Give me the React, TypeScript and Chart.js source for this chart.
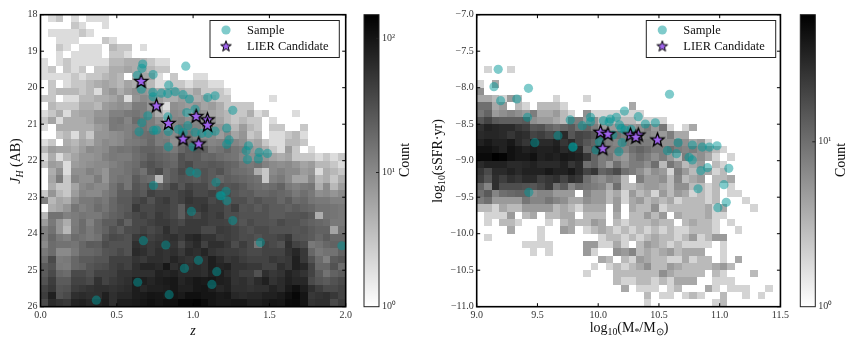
import React, { useEffect, useRef } from "react";
import { Chart, registerables } from "chart.js";

Chart.register(...registerables);

const SERIF = '"Liberation Serif", serif';

// Counts per cell, row 0 is the top row of the panel.
const leftCounts: number[][] = [
  [0,2,3,0,2,1,2,2,2],
  [0,0,0,0,3,2,0,0,2],
  [0,2,2,2,2,3,2],
  [0,1,2,2,2,0,0,0,3,2],
  [0,1,3,2,1,2,2,2,1,4,3,3,1,2],
  [0,1,2,1,2,2,2,2,1,3,3,2,1],
  [2,1,2,3,2,2,2,2,2,4,4,5,5,4,3,2,2],
  [2,3,1,3,2,3,1,3,3,5,5,6,5,5,4,3,3],
  [2,2,2,2,3,2,3,3,4,5,4,1,5,6,6,2,1,3,0,0,2,2],
  [1,3,1,2,3,3,4,5,6,5,4,6,5,7,4,2,2,3,3,2,3,3,2,2],
  [0,3,4,4,4,3,4,2,6,8,5,7,9,8,7,5,5,6,5,4,6,3,3,3,2],
  [3,3,1,2,2,4,4,5,5,6,8,2,8,10,9,7,5,5,7,6,5,6,4,3,3,0,0,0,0,0,2],
  [1,4,3,3,3,5,5,4,7,8,9,8,13,13,8,4,2,9,8,7,8,6,7,5,3,3,3,3],
  [2,3,5,2,5,6,6,8,8,12,12,14,15,13,10,5,3,10,9,5,10,8,6,5,4,3,3,5,2,3,0,0,0,2],
  [3,6,2,5,5,5,6,9,9,14,15,11,18,15,13,9,4,11,12,9,11,9,9,6,4,3,4,3,3,0,2],
  [2,1,5,5,5,5,5,7,8,14,13,12,14,16,13,11,7,11,15,13,12,9,8,8,6,4,7,4,3,0,3,3,0,0,3],
  [1,1,3,4,2,5,3,8,8,9,10,12,15,17,18,13,12,10,16,15,12,10,10,7,10,6,8,3,4,0,2,2,3,4,2],
  [2,3,1,5,4,6,5,8,10,9,10,13,14,15,19,13,14,9,16,19,15,13,11,12,14,11,9,5,6,3,2,2,4,4,3],
  [4,7,6,6,5,7,10,9,10,14,16,15,18,22,22,19,16,14,20,25,27,23,14,16,20,15,13,8,7,5,3,2,7,3,0,2],
  [2,5,2,4,6,8,8,9,12,14,13,13,17,20,25,22,20,18,30,24,25,20,21,18,16,15,11,9,10,8,6,5,6,3,3,3,2,3,2,3],
  [3,7,6,2,7,8,9,10,10,12,14,16,18,25,30,25,22,20,30,35,25,25,27,25,22,20,15,14,16,12,10,9,10,8,6,7,4,4,3,2],
  [0,5,9,2,9,9,12,10,8,14,14,16,20,16,28,35,20,25,35,30,27,30,25,30,22,18,17,15,5,3,10,12,10,10,7,8,2,5,4,3],
  [0,6,13,3,11,9,9,13,8,14,16,15,25,20,18,4,20,25,30,28,25,30,25,20,24,22,20,18,16,3,12,14,10,6,6,10,4,5,3,5],
  [0,5,3,3,6,10,12,10,10,16,22,15,28,24,32,22,28,40,28,40,35,35,25,32,28,30,25,20,18,16,18,22,14,12,14,15,5,10,4,7],
  [3,8,4,3,7,11,10,10,13,16,24,24,30,26,42,36,36,36,42,48,36,36,42,36,34,28,24,25,20,20,22,20,18,14,17,14,9,10,8,10],
  [12,4,6,5,10,14,14,16,14,20,26,26,36,42,30,42,48,36,42,54,48,48,36,42,28,32,32,25,30,25,25,20,25,18,20,15,14,14,12,12],
  [0,5,6,8,15,12,14,18,15,20,24,26,48,36,36,42,42,36,24,48,48,54,42,42,34,44,28,30,25,30,25,25,22,25,22,20,16,16,15,14],
  [4,16,16,12,13,15,14,14,18,22,24,30,36,42,36,48,42,36,24,42,36,48,42,48,34,34,30,30,30,30,25,25,28,28,30,25,5,16,15,14],
  [7,14,8,5,13,18,12,18,24,24,34,22,36,36,42,48,48,42,36,48,48,48,42,42,40,34,28,35,30,30,28,35,30,30,25,22,20,18,14,14],
  [12,16,8,4,14,18,14,18,22,30,24,34,36,42,36,42,60,42,48,48,48,36,36,48,45,40,34,30,35,35,30,30,30,28,30,25,22,22,6,16],
  [12,20,14,12,18,16,14,16,28,36,34,30,48,54,42,48,54,60,48,66,72,54,54,42,45,40,34,35,30,35,35,40,50,30,28,25,20,25,20,20],
  [10,18,16,16,15,20,25,24,34,30,30,30,60,54,48,54,60,54,36,54,66,42,60,60,50,34,45,35,15,40,35,30,60,40,35,14,16,20,22,22],
  [14,18,10,10,14,20,20,22,28,30,36,30,66,60,48,60,54,60,48,66,60,72,54,48,45,45,40,35,35,40,40,40,55,70,50,20,14,16,16,22],
  [18,35,13,14,20,25,25,28,28,42,42,42,54,48,60,60,54,72,60,54,60,60,84,66,50,55,45,40,40,40,50,45,50,80,50,30,18,12,25,28],
  [25,30,14,13,20,22,28,32,34,42,48,42,60,72,72,66,96,60,72,60,66,60,84,72,78,55,55,50,50,40,40,60,50,80,70,40,20,20,30,18],
  [25,35,20,18,35,35,30,40,40,42,54,54,60,60,60,78,72,78,66,66,66,60,78,84,66,55,45,45,30,60,50,55,75,65,55,40,25,16,22,25],
  [30,45,25,25,40,40,35,56,40,48,54,60,84,84,72,84,90,96,72,84,96,90,96,84,78,55,60,50,65,80,55,65,80,70,70,35,28,25,30,35],
  [40,50,28,30,45,50,55,60,60,55,60,65,85,70,80,80,85,95,80,80,95,100,85,70,80,60,60,55,60,60,75,65,90,110,85,60,45,35,35,40],
  [45,80,30,35,60,65,60,60,80,60,70,70,85,90,100,95,90,100,90,110,110,100,100,90,95,70,65,70,70,80,80,90,110,130,100,50,55,60,50,40],
  [35,65,55,50,75,80,70,75,85,60,85,85,90,100,110,100,110,110,130,130,140,120,100,90,90,95,95,80,80,90,100,95,120,125,100,55,60,60,35,45],
];

const rightCounts: number[][] = [
  [],[],[],[],[],[],[],
  [0,2,0,0,2],
  [],
  [2,0,4],
  [6],
  [4,4,3,2,5,3,0,0,0,0,2,0,0,0,2],
  [10,10,4,5,1,3,2,0,3,3,3,2,0,0,0,0,0,0,0,0,4],
  [9,12,5,6,7,6,5,8,4,4,5,3,2,0,6,2,2,2,2,2,2,2],
  [15,20,14,13,13,13,14,6,5,5,4,3,8,8,5,6,3,3,3,3,3,2,2,2,2],
  [28,35,32,30,30,25,22,15,16,12,10,12,14,10,12,8,5,5,5,6,5,6,8,5,9,2,0,2,4],
  [30,32,32,30,25,30,28,20,22,18,20,30,15,20,18,15,14,12,10,8,8,6,7,6,5,8,4,4],
  [35,40,35,35,40,30,25,35,30,30,35,25,30,20,15,12,10,8,7,9,8,8,8,7,6,6,8,6,4,5,2],
  [45,45,40,35,45,40,35,38,35,35,38,30,35,30,12,15,12,8,8,7,10,12,10,8,8,10,8,7,8,6,5,3,2],
  [50,50,59,55,45,40,40,45,35,38,35,40,38,35,25,12,8,9,6,5,8,10,8,6,8,5,3,8,5,6,4,2,0,2],
  [30,35,35,35,30,30,32,35,30,30,30,35,25,30,10,12,8,5,10,6,8,8,6,10,3,9,6,3,4,5,1,3,2],
  [25,18,30,30,35,30,35,35,35,40,35,35,40,30,20,25,12,14,18,10,8,6,4,6,5,2,8,5,3,4,4,2,3],
  [22,15,28,22,28,25,30,30,22,25,28,20,28,24,10,7,6,8,7,3,1,8,5,5,6,3,7,3,4,5,0,3,3,4],
  [12,7,28,17,17,17,16,15,18,24,10,14,7,10,9,8,7,4,10,3,3,4,5,5,4,3,6,6,3,3,2,3,0,2],
  [10,14,7,10,11,12,12,6,7,7,5,5,5,1,7,5,5,3,4,2,5,3,4,2,5,3,5,4,2,3,2,3,0,2,2],
  [8,10,5,5,5,5,9,7,7,9,7,6,4,4,6,5,5,3,5,2,4,5,3,4,3,4,2,3,3,3,2,3,0,0,0,2],
  [3,3,2,4,3,3,5,5,5,5,3,4,3,2,4,4,4,1,5,1,4,3,3,6,2,3,3,3,3,3,4,2,4,0,0,0,2],
  [0,2,2,2,5,0,3,4,1,3,3,4,4,0,3,3,3,1,4,0,3,3,5,3,5,1,4,3,3,3,4,2,2],
  [0,2,0,3,3,2,0,0,0,2,0,3,4,3,3,5,4,1,3,2,3,3,3,4,3,3,0,3,4,3,3,2,0,2],
  [0,0,0,0,4,0,0,0,2,0,0,5,4,0,2,3,4,3,2,3,2,3,2,3,2,3,2,2,3,3,3,2,0,0,2],
  [0,2,0,0,0,0,0,0,2,0,0,0,0,0,0,0,2,3,3,2,3,2,3,4,3,3,2,3,5,2,3,5,5],
  [0,0,0,0,0,0,2,2,2,2,0,0,0,0,5,5,2,2,4,2,1,3,5,4,3,2,3,2,2,2,2,0,2],
  [0,0,0,0,0,0,0,2,0,2,0,0,0,0,5,2,0,0,6,5,7,3,4,3,4,5,3,4,4,4,0,0,2],
  [0,0,0,0,0,0,0,0,0,0,0,0,0,0,0,0,4,3,1,3,2,5,4,3,3,2,2,4,2,3,3,0,2,0,4],
  [0,0,0,0,0,0,0,0,0,0,0,0,0,0,0,2,0,2,3,2,3,4,6,3,3,5,4,3,3,3,3,4,5,3],
  [0,0,0,0,0,0,0,0,0,0,0,0,0,0,2,0,0,0,3,3,3,3,3,3,6,4,3,3,3,3,0,3,2,0,0,0,3],
  [0,0,0,0,0,0,0,0,0,0,0,0,0,0,0,0,0,0,3,2,2,3,3,2,3,2,4,4,4,0,0,2,2,2],
  [0,0,0,0,0,0,0,0,0,0,0,0,0,0,0,0,0,0,0,4,0,2,2,2,0,2,3,0,0,0,4,2,0,2,2,2,0,0,2],
  [0,0,0,0,0,0,0,0,0,0,0,0,0,0,0,0,0,0,0,0,0,0,3,0,2,2,0,2,3,2,0,0,3,0,0,2,0,2],
  [0,0,0,0,0,0,0,0,0,0,0,0,0,0,0,0,0,0,0,0,0,0,2,0,0,0,0,0,0,0,0,2,3],
];

const leftSampleZ = [0.67,0.664,0.635,0.738,0.661,0.84,0.952,0.736,0.738,0.792,0.834,0.882,0.934,0.976,0.703,0.664,0.646,0.74,0.76,0.838,0.834,0.838,0.958,1.013,0.904,0.935,0.965,1.013,1.057,1.144,1.1,1.0,0.98,1.024,1.096,1.144,1.26,1.22,1.236,1.22,1.363,1.348,1.433,1.487,1.356,1.428,0.74,1.15,1.177,0.989,0.674,0.821,1.035,0.943,1.155,0.637,1.123,0.843,0.366,1.216,1.184,1.221,1.26,1.441,1.975];
const leftSampleJ = [19.35,19.47,19.66,19.64,20.04,19.93,19.41,20.13,20.25,20.15,20.16,20.11,20.19,20.31,20.77,20.96,21.21,21.17,21.16,21.2,20.8,21.62,20.68,20.59,21.14,21.23,21.04,21.22,21.25,21.19,21.25,21.62,22.3,22.34,20.27,20.22,20.62,21.11,21.43,21.55,21.59,21.73,21.77,21.8,21.97,21.95,22.68,22.59,22.96,23.39,24.19,24.31,24.73,24.95,25.04,25.33,25.39,25.67,25.82,22.84,22.96,23.1,23.64,24.24,24.33];
const leftStarZ = [0.659,0.76,0.838,0.934,1.037,1.02,1.094,1.094];
const leftStarJ = [19.83,20.5,20.98,21.41,21.54,20.79,20.88,21.03];

const rightSampleM = [9.177,9.142,9.197,9.33,9.426,9.418,9.478,9.669,9.77,9.792,9.792,9.869,9.937,9.937,10.043,10.09,10.1,10.15,10.175,10.19,10.216,10.33,10.388,10.47,10.27,10.22,10.01,9.983,10.17,10.197,10.12,10.587,10.658,10.775,10.857,10.915,10.978,10.57,10.644,10.748,10.775,10.9,10.844,11.075,10.822,11.035,11.054,10.985,9.429];
const rightSampleS = [-7.748,-7.986,-8.178,-8.155,-8.008,-8.406,-8.753,-8.657,-8.442,-8.816,-8.81,-8.52,-8.406,-8.466,-8.452,-8.47,-8.43,-8.406,-8.51,-8.556,-8.32,-8.397,-8.497,-8.48,-8.57,-8.58,-8.74,-8.853,-8.877,-8.753,-8.648,-8.09,-8.753,-8.785,-8.813,-8.813,-8.795,-8.863,-8.904,-8.953,-8.99,-9.096,-9.137,-9.104,-9.384,-9.329,-9.57,-9.644,-9.433];
const rightStarM = [10.019,10.08,10.038,10.265,10.33,10.31,10.488];
const rightStarS = [-8.611,-8.638,-8.836,-8.648,-8.648,-8.68,-8.717];

const TOP = 14.7;
const BOTTOM = 306.7;
const H = 347;

type Seg = { t: string; italic?: boolean; sub?: boolean };

function richWidth(ctx: CanvasRenderingContext2D, segs: Seg[], size: number) {
  let w = 0;
  for (const s of segs) {
    ctx.font = `${s.italic ? "italic " : ""}${s.sub ? size * 0.7 : size}px ${SERIF}`;
    w += ctx.measureText(s.t).width;
  }
  return w;
}

function drawRich(ctx: CanvasRenderingContext2D, segs: Seg[], cx: number, cy: number, rot: number, size: number) {
  ctx.save();
  ctx.translate(cx, cy);
  ctx.rotate(rot);
  ctx.fillStyle = "#111";
  ctx.textBaseline = "alphabetic";
  ctx.textAlign = "left";
  let x = -richWidth(ctx, segs, size) / 2;
  for (const s of segs) {
    ctx.font = `${s.italic ? "italic " : ""}${s.sub ? size * 0.7 : size}px ${SERIF}`;
    ctx.fillText(s.t, x, size * 0.33 + (s.sub ? size * 0.22 : 0));
    x += ctx.measureText(s.t).width;
  }
  ctx.restore();
}

function makeStar(outer: number, line: number) {
  const pad = line + 3;
  const size = Math.ceil((outer + pad) * 2);
  const c = document.createElement("canvas");
  c.width = size;
  c.height = size;
  const g = c.getContext("2d")!;
  g.beginPath();
  for (let i = 0; i < 10; i++) {
    const r = i % 2 === 0 ? outer : outer * 0.42;
    const a = -Math.PI / 2 + (i * Math.PI) / 5;
    const px = size / 2 + r * Math.cos(a);
    const py = size / 2 + r * Math.sin(a);
    if (i === 0) g.moveTo(px, py);
    else g.lineTo(px, py);
  }
  g.closePath();
  g.fillStyle = "#a064ee";
  g.fill();
  g.lineWidth = line;
  g.strokeStyle = "#000";
  g.lineJoin = "miter";
  g.stroke();
  return c;
}

type Panel = {
  counts: number[][];
  vmax: number;
  xMin: number;
  xStep: number;
  yStart: number;
  yStep: number;
  legendLeft: number;
  legendRight: number;
  canvasLeft: number;
  yLabel: Seg[];
  xLabel: Seg[];
  yLabelX: number;
  xLabelX: number;
  xLabelY: number;
};

function panelPlugin(p: Panel, legendStar: HTMLCanvasElement) {
  return {
    id: "panelPlugin",
    beforeDatasetsDraw(chart: any) {
      const { ctx, scales } = chart;
      const lv = Math.log(p.vmax);
      p.counts.forEach((row, r) => {
        row.forEach((c, k) => {
          if (c <= 0) return;
          const v = Math.round(255 * Math.max(0, 1 - Math.log(c) / lv));
          ctx.fillStyle = `rgb(${v},${v},${v})`;
          const x0 = Math.round(scales.x.getPixelForValue(p.xMin + k * p.xStep));
          const x1 = Math.round(scales.x.getPixelForValue(p.xMin + (k + 1) * p.xStep));
          const y0 = Math.round(scales.y.getPixelForValue(p.yStart + r * p.yStep));
          const y1 = Math.round(scales.y.getPixelForValue(p.yStart + (r + 1) * p.yStep));
          ctx.fillRect(x0, Math.min(y0, y1), x1 - x0, Math.abs(y1 - y0));
        });
      });
    },
    afterDraw(chart: any) {
      const { ctx, chartArea: a, scales } = chart;
      ctx.save();
      ctx.strokeStyle = "#000";
      ctx.lineWidth = 1;
      const tick = 3.5;
      scales.x.ticks.forEach((t: any) => {
        const px = scales.x.getPixelForValue(t.value);
        ctx.beginPath();
        ctx.moveTo(px, a.bottom);
        ctx.lineTo(px, a.bottom - tick);
        ctx.moveTo(px, a.top);
        ctx.lineTo(px, a.top + tick);
        ctx.stroke();
      });
      scales.y.ticks.forEach((t: any) => {
        const py = scales.y.getPixelForValue(t.value);
        ctx.beginPath();
        ctx.moveTo(a.left, py);
        ctx.lineTo(a.left + tick, py);
        ctx.moveTo(a.right, py);
        ctx.lineTo(a.right - tick, py);
        ctx.stroke();
      });
      ctx.lineWidth = 1.6;
      ctx.strokeRect(a.left, a.top, a.right - a.left, a.bottom - a.top);

      // legend
      const lx = p.legendLeft - p.canvasLeft;
      const lw = p.legendRight - p.legendLeft;
      ctx.fillStyle = "#fff";
      ctx.fillRect(lx, 20.5, lw, 37);
      ctx.strokeStyle = "#222";
      ctx.lineWidth = 1;
      ctx.strokeRect(lx, 20.5, lw, 37);
      const mx = lx + 16;
      ctx.fillStyle = "rgba(0,151,151,0.5)";
      ctx.beginPath();
      ctx.arc(mx, 30, 4.6, 0, Math.PI * 2);
      ctx.fill();
      ctx.drawImage(legendStar, mx - legendStar.width / 2, 46.5 - legendStar.height / 2);
      ctx.fillStyle = "#111";
      ctx.font = `12.5px ${SERIF}`;
      ctx.textBaseline = "middle";
      ctx.textAlign = "left";
      ctx.fillText(chart.data.datasets[0].label, lx + 37, 30.5);
      ctx.fillText(chart.data.datasets[1].label, lx + 37, 46.5);
      ctx.restore();

      drawRich(ctx, p.yLabel, p.yLabelX, 161, -Math.PI / 2, 14);
      drawRich(ctx, p.xLabel, p.xLabelX, p.xLabelY, 0, 14);
    },
  };
}

const tickFont = { family: SERIF, size: 10 };
const tickColor = "#333";

function makePanel(canvas: HTMLCanvasElement, p: Panel, cfg: any) {
  const star = makeStar(7, 1.3);
  const legendStar = makeStar(5.6, 1);
  const leftW = cfg.areaLeft - p.canvasLeft;
  return new Chart(canvas, {
    type: "scatter",
    data: {
      datasets: [
        {
          label: "Sample",
          data: cfg.sampleX.map((x: number, i: number) => ({ x, y: cfg.sampleY[i] })),
          backgroundColor: "rgba(0,151,151,0.5)",
          borderWidth: 0,
          pointRadius: 4.6,
          order: 2,
        },
        {
          label: "LIER Candidate",
          data: cfg.starX.map((x: number, i: number) => ({ x, y: cfg.starY[i] })),
          pointStyle: star,
          order: 1,
        },
      ],
    },
    options: {
      responsive: false,
      animation: false,
      layout: { padding: { left: 0, top: TOP, right: canvas.width - cfg.areaRight, bottom: 0 } },
      plugins: { legend: { display: false }, tooltip: { enabled: false } },
      scales: {
        x: {
          type: "linear",
          min: cfg.xMin,
          max: cfg.xMax,
          grid: { display: false, drawTicks: false },
          border: { display: false },
          afterFit: (s: any) => { s.height = H - BOTTOM; },
          ticks: { stepSize: 0.5, font: tickFont, color: tickColor, padding: 3, maxRotation: 0, callback: (v: any) => Number(v).toFixed(1) },
        },
        y: {
          type: "linear",
          min: cfg.yMin,
          max: cfg.yMax,
          reverse: cfg.reverse,
          grid: { display: false, drawTicks: false },
          border: { display: false },
          afterFit: (s: any) => { s.width = leftW; },
          ticks: { stepSize: cfg.yStepTick, font: tickFont, color: tickColor, padding: 3, callback: cfg.yFmt },
        },
      },
    },
    plugins: [panelPlugin(p, legendStar)],
  } as any);
}

function makeBar(canvas: HTMLCanvasElement, vmax: number, padLeft: number, labelX: number) {
  return new Chart(canvas, {
    type: "scatter",
    data: { datasets: [{ label: "Count", data: [] }] },
    options: {
      responsive: false,
      animation: false,
      layout: { padding: { left: padLeft, top: TOP, right: 0, bottom: H - BOTTOM } },
      plugins: { legend: { display: false }, tooltip: { enabled: false } },
      scales: {
        x: { display: false, min: 0, max: 1 },
        y: {
          type: "logarithmic",
          position: "right",
          min: 1,
          max: vmax,
          grid: { display: false, drawTicks: false },
          border: { display: false },
          afterFit: (s: any) => { s.width = canvas.width - padLeft - 15; },
          ticks: {
            autoSkip: false,
            font: tickFont,
            color: tickColor,
            padding: 3,
            callback: (v: any) => (v === 1 ? "10\u2070" : v === 10 ? "10\u00b9" : v === 100 ? "10\u00b2" : ""),
          },
        },
      },
    },
    plugins: [
      {
        id: "colorbar",
        beforeDatasetsDraw(chart: any) {
          const { ctx, chartArea: a, scales } = chart;
          const g = ctx.createLinearGradient(0, a.bottom, 0, a.top);
          g.addColorStop(0, "#fff");
          g.addColorStop(1, "#000");
          ctx.fillStyle = g;
          ctx.fillRect(a.left, a.top, a.right - a.left, a.bottom - a.top);
          ctx.strokeStyle = "#222";
          ctx.lineWidth = 1;
          ctx.strokeRect(a.left, a.top, a.right - a.left, a.bottom - a.top);
          [10, 100].forEach((d) => {
            if (d > vmax) return;
            const py = scales.y.getPixelForValue(d);
            ctx.beginPath();
            ctx.moveTo(a.right, py);
            ctx.lineTo(a.right - 3, py);
            ctx.stroke();
          });
          drawRich(ctx, [{ t: "Count" }], labelX, 160, -Math.PI / 2, 14);
        },
      },
    ],
  } as any);
}

export default function App() {
  const a = useRef<HTMLCanvasElement>(null);
  const b = useRef<HTMLCanvasElement>(null);
  const c = useRef<HTMLCanvasElement>(null);
  const d = useRef<HTMLCanvasElement>(null);

  useEffect(() => {
    document.body.style.margin = "0";
    const charts = [
      makePanel(
        a.current!,
        {
          counts: leftCounts, vmax: 150, xMin: 0, xStep: 0.05, yStart: 18, yStep: 0.2,
          legendLeft: 210, legendRight: 339.3, canvasLeft: 0,
          yLabel: [{ t: "J", italic: true }, { t: "H", italic: true, sub: true }, { t: " (AB)" }],
          xLabel: [{ t: "z", italic: true }],
          yLabelX: 15, xLabelX: 193, xLabelY: 330,
        },
        {
          areaLeft: 40.5, areaRight: 345.7, sampleX: leftSampleZ, sampleY: leftSampleJ, starX: leftStarZ, starY: leftStarJ,
          xMin: 0, xMax: 2, yMin: 18, yMax: 26, reverse: true, yStepTick: 1,
          yFmt: (v: any) => String(v),
        }
      ),
      makeBar(b.current!, 150, 9, 49),
      makePanel(
        c.current!,
        {
          counts: rightCounts, vmax: 59, xMin: 9, xStep: 0.0625, yStart: -7, yStep: -0.1,
          legendLeft: 646.3, legendRight: 775.7, canvasLeft: 425,
          yLabel: [{ t: "log" }, { t: "10", sub: true }, { t: "(sSFR\u00b7yr)" }],
          xLabel: [{ t: "log" }, { t: "10", sub: true }, { t: "(M" }, { t: "*", sub: true }, { t: "/M" }, { t: "\u2299", sub: true }, { t: ")" }],
          yLabelX: 12, xLabelX: 204, xLabelY: 327,
        },
        {
          areaLeft: 476.7, areaRight: 781.7 - 425, sampleX: rightSampleM, sampleY: rightSampleS, starX: rightStarM, starY: rightStarS,
          xMin: 9, xMax: 11.5, yMin: -11, yMax: -7, reverse: false, yStepTick: 0.5,
          yFmt: (v: any) => Number(v).toFixed(1).replace("-", "\u2212"),
        }
      ),
      makeBar(d.current!, 59, 8.3, 48),
    ];
    return () => charts.forEach((x) => x.destroy());
  }, []);

  const abs = (left: number, width: number): React.CSSProperties => ({ position: "absolute", left, top: 0, width, height: H });
  return (
    <div style={{ position: "relative", width: 868, height: H, background: "#fff" }}>
      <canvas ref={a} width={355} height={H} style={abs(0, 355)} />
      <canvas ref={b} width={70} height={H} style={abs(355, 70)} />
      <canvas ref={c} width={367} height={H} style={abs(425, 367)} />
      <canvas ref={d} width={76} height={H} style={abs(792, 76)} />
    </div>
  );
}
